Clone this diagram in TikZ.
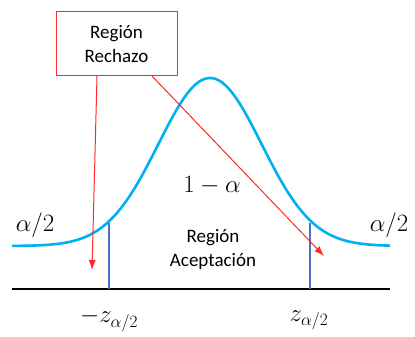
\documentclass[tikz,border=0pt]{standalone}
\usepackage{fontspec}
\setmainfont{Carlito}
\usetikzlibrary{arrows.meta}
\definecolor{curvecol}{RGB}{0,176,240}
\definecolor{zcol}{RGB}{68,114,196}
\definecolor{redcol}{RGB}{255,40,40}
\tikzset{
  lbl/.style={font=\fontsize{19}{24}\selectfont, align=center, inner sep=0pt},
  mlbl/.style={font=\fontsize{24}{28}\selectfont, inner sep=0pt},
  redarrow/.style={draw=redcol, line width=1pt, -{Latex[length=10pt,width=7pt]}},
}
\begin{document}
\begin{tikzpicture}[x=1pt,y=-1pt]
\useasboundingbox (0,0) rectangle (415,337);
% curve
\draw[curvecol, line width=2.6pt, line join=round] plot[domain=12:390, samples=160, smooth]
  (\x, {246-168*exp(-0.5*((\x-210)/51.6)^2)});
% axis
\coordinate (a0) at (12,289);
\coordinate (a1) at (390,289);
\draw[black, line width=2.2pt] (a0) -- (a1);
% critical lines
\coordinate (l0) at (109,289);
\coordinate (l1) at (109,223);
\coordinate (r0) at (310,289);
\coordinate (r1) at (310,223);
\draw[zcol, line width=1.8pt] (l0) -- (l1);
\draw[zcol, line width=1.8pt] (r0) -- (r1);
% box
\node[draw=redcol, line width=1pt, minimum width=121pt, minimum height=64pt, lbl] (box) at (116.5,44) {Región\\Rechazo};
\coordinate (s1) at (97,76);
\coordinate (t1) at (92,270);
\coordinate (s2) at (152,76);
\coordinate (t2) at (324,256);
\draw[redarrow] (s1) -- (t1);
\draw[redarrow] (s2) -- (t2);
% labels
\node[lbl] (acc) at (213,249) {Región\\Aceptación};
\node[mlbl] (oma) at (212,186) {$1-\alpha$};
\node[mlbl] (al) at (35,225) {$\alpha/2$};
\node[mlbl] (ar) at (389,225) {$\alpha/2$};
\node[mlbl] (zl) at (109,320) {$-z_{\alpha/2}$};
\node[mlbl] (zr) at (309,320) {$z_{\alpha/2}$};
\end{tikzpicture}
\end{document}
